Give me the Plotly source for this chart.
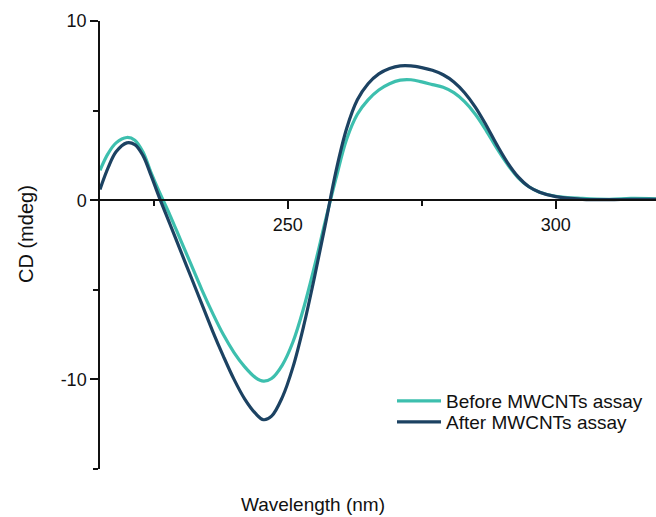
import plotly.graph_objects as go

wavelength = [215, 216.5, 218, 220, 221.5, 223, 224.5, 226, 228, 230, 232, 234, 236, 238, 240,
              242, 244, 245.5, 247, 249, 251, 253, 255, 257, 259, 261, 263, 265, 267, 269,
              271, 273, 275, 277, 279, 281, 283, 285, 287, 289, 291, 293, 295, 297, 300,
              305, 310, 314, 319]
before = [1.67, 2.6, 3.2, 3.5, 3.35, 2.7, 1.55, 0.5, -0.8, -2.2, -3.6, -5.0, -6.3, -7.5, -8.5,
          -9.3, -9.9, -10.1, -9.95, -9.2, -7.9, -6.0, -3.7, -1.2, 1.2, 3.4, 4.8, 5.6, 6.15, 6.5,
          6.7, 6.72, 6.6, 6.45, 6.3, 6.0, 5.5, 4.8, 3.9, 2.9, 2.0, 1.25, 0.75, 0.45, 0.22,
          0.1, 0.05, 0.1, 0.08]
after = [0.6, 1.8, 2.7, 3.2, 3.1, 2.5, 1.4, 0.2, -1.3, -2.8, -4.3, -5.8, -7.3, -8.7, -10.0,
         -11.1, -11.9, -12.25, -12.05, -11.0, -9.3, -7.0, -4.3, -1.4, 1.6, 4.0, 5.6, 6.5, 7.05, 7.35,
         7.5, 7.5, 7.4, 7.25, 7.0, 6.6, 6.0, 5.2, 4.2, 3.1, 2.1, 1.3, 0.75, 0.45, 0.2,
         0.05, 0.03, 0.05, 0.05]
series_names = ["Before MWCNTs assay", "After MWCNTs assay"]
colors = ["#3dbfae", "#1c4262"]
x_ticks = [250, 300]
y_ticks = [-10, 0, 10]
y_tick_labels = ["-10", "0", "10"]

fig = go.Figure()
fig.add_trace(go.Scatter(x=wavelength, y=before, mode="lines", name=series_names[0],
                         legend="legend",
                         line=dict(color=colors[0], width=3.2, shape="spline", smoothing=1)))
fig.add_trace(go.Scatter(x=wavelength, y=after, mode="lines", name=series_names[1],
                         legend="legend2",
                         line=dict(color=colors[1], width=3.2, shape="spline", smoothing=1)))

font_family = "Liberation Sans, Arial, sans-serif"
L, T, B = 100, 21, 48
pw, ph = 656 - L, 517 - T - B

def px_x(p):
    return (p - L) / pw

def px_y(p):
    return (517 - B - p) / ph

legend_common = dict(xanchor="left", yanchor="top", bgcolor="rgba(0,0,0,0)",
                     font=dict(size=19), itemwidth=44, tracegroupgap=0)

fig.update_layout(
    width=656, height=517,
    margin=dict(l=L, r=0, t=T, b=B),
    paper_bgcolor="white", plot_bgcolor="white",
    font=dict(family=font_family, size=18, color="#111111"),
    showlegend=True,
    legend=dict(x=px_x(392), y=px_y(382), **legend_common),
    legend2=dict(x=px_x(392), y=px_y(403), **legend_common),
    xaxis=dict(range=[215, 318.7], anchor="free", position=0.6,
               showline=True, linecolor="#111111", linewidth=1.5,
               tickvals=x_ticks, ticks="outside", ticklen=8, tickwidth=1.5,
               tickcolor="#111111", showgrid=False, zeroline=False,
               minor=dict(dtick=25, tick0=0, ticks="outside", ticklen=5, tickwidth=1.5,
                          tickcolor="#111111", showgrid=False)),
    yaxis=dict(range=[-15, 10], showline=True, linecolor="#111111", linewidth=1.5,
               tickvals=y_ticks, ticktext=y_tick_labels, ticks="outside", ticklen=8,
               tickwidth=1.5, tickcolor="#111111", showgrid=False, zeroline=False,
               minor=dict(dtick=5, tick0=0, ticks="outside", ticklen=5, tickwidth=1.5,
                          tickcolor="#111111", showgrid=False)),
    annotations=[
        dict(text="Wavelength (nm)", x=px_x(313), y=px_y(504), xref="paper", yref="paper",
             xanchor="center", yanchor="middle", showarrow=False, font=dict(size=19)),
        dict(text="CD (mdeg)", x=px_x(26), y=px_y(234), xref="paper", yref="paper",
             xanchor="center", yanchor="middle", showarrow=False, textangle=-90,
             font=dict(size=20)),
    ],
)

fig.write_html("out.html", config={"displayModeBar": False},
               post_script="document.body.style.margin='0px';document.body.style.padding='0px';")
